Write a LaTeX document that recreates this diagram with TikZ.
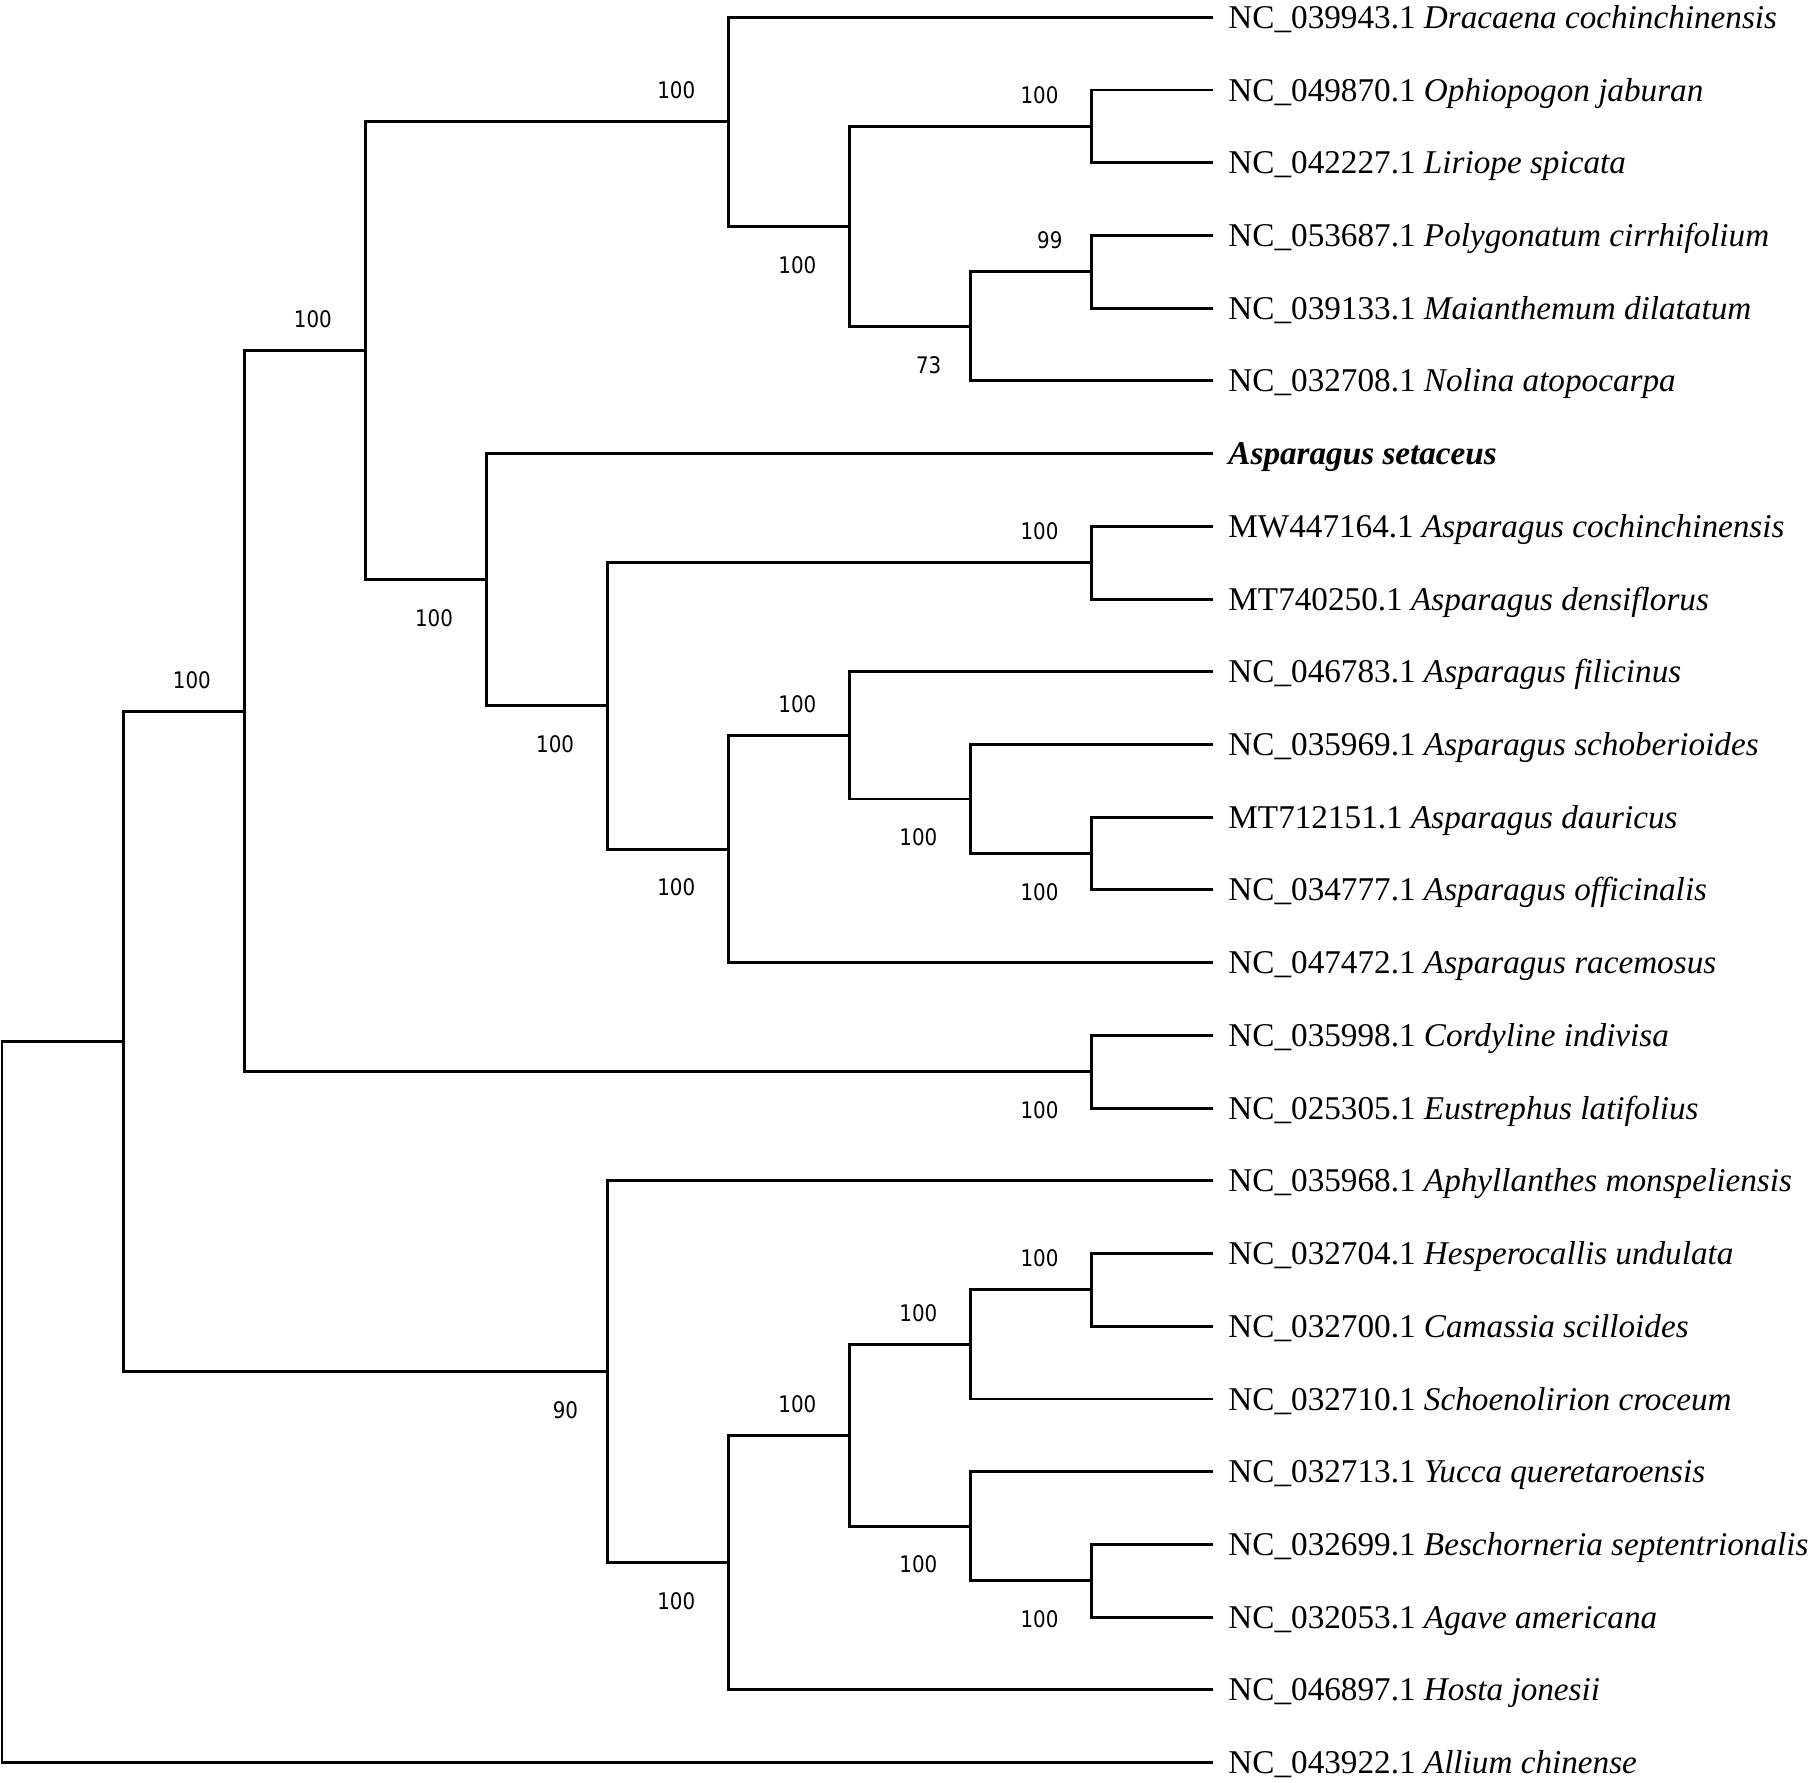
\documentclass[tikz,border=0pt]{standalone}
\usepackage{fontspec}
\setmainfont{Liberation Serif}
\newfontfamily\bootfont[FakeStretch=0.87]{DejaVu Sans}

\begin{document}
\begin{tikzpicture}[x=0.5pt, y=-0.5pt, line width=1.45pt,
		taxon/.style={anchor=base west, inner sep=0pt, xshift=7pt, yshift=-5.5pt, font=\fontsize{16.6}{20}\selectfont},
		boot/.style={anchor=east, inner sep=0pt, xshift=-16pt, font=\bootfont\fontsize{11.4}{13}\selectfont},
		bootup/.style={boot, yshift=15.7pt},
		bootdown/.style={boot, yshift=-19.2pt},
		twodigit/.style={xshift=2pt}]
		\useasboundingbox (0, 0) rectangle (1810, 1783);

		\coordinate (tip0) at (1213, 17.3);
		\coordinate (tip1) at (1213, 90.0);
		\coordinate (tip2) at (1213, 162.7);
		\coordinate (tip3) at (1213, 235.5);
		\coordinate (tip4) at (1213, 308.2);
		\coordinate (tip5) at (1213, 380.9);
		\coordinate (tip6) at (1213, 453.6);
		\coordinate (tip7) at (1213, 526.3);
		\coordinate (tip8) at (1213, 599.1);
		\coordinate (tip9) at (1213, 671.8);
		\coordinate (tip10) at (1213, 744.5);
		\coordinate (tip11) at (1213, 817.2);
		\coordinate (tip12) at (1213, 889.9);
		\coordinate (tip13) at (1213, 962.7);
		\coordinate (tip14) at (1213, 1035.4);
		\coordinate (tip15) at (1213, 1108.1);
		\coordinate (tip16) at (1213, 1180.8);
		\coordinate (tip17) at (1213, 1253.5);
		\coordinate (tip18) at (1213, 1326.3);
		\coordinate (tip19) at (1213, 1399.0);
		\coordinate (tip20) at (1213, 1471.7);
		\coordinate (tip21) at (1213, 1544.4);
		\coordinate (tip22) at (1213, 1617.1);
		\coordinate (tip23) at (1213, 1689.9);
		\coordinate (tip24) at (1213, 1762.6);

		\node[taxon] (dracaena) at (tip0) {NC\_039943.1 \textit{Dracaena cochinchinensis}};
		\node[taxon] (ophiopogon) at (tip1) {NC\_049870.1 \textit{Ophiopogon jaburan}};
		\node[taxon] (liriope) at (tip2) {NC\_042227.1 \textit{Liriope spicata}};
		\node[taxon] (polygonatum) at (tip3) {NC\_053687.1 \textit{Polygonatum cirrhifolium}};
		\node[taxon] (maianthemum) at (tip4) {NC\_039133.1 \textit{Maianthemum dilatatum}};
		\node[taxon] (nolina) at (tip5) {NC\_032708.1 \textit{Nolina atopocarpa}};
		\node[taxon] (setaceus) at (tip6) {\textbf{\textit{Asparagus setaceus}}};
		\node[taxon] (cochinchinensis) at (tip7) {MW447164.1 \textit{Asparagus cochinchinensis}};
		\node[taxon] (densiflorus) at (tip8) {MT740250.1 \textit{Asparagus densiflorus}};
		\node[taxon] (filicinus) at (tip9) {NC\_046783.1 \textit{Asparagus filicinus}};
		\node[taxon] (schoberioides) at (tip10) {NC\_035969.1 \textit{Asparagus schoberioides}};
		\node[taxon] (dauricus) at (tip11) {MT712151.1 \textit{Asparagus dauricus}};
		\node[taxon] (officinalis) at (tip12) {NC\_034777.1 \textit{Asparagus officinalis}};
		\node[taxon] (racemosus) at (tip13) {NC\_047472.1 \textit{Asparagus racemosus}};
		\node[taxon] (cordyline) at (tip14) {NC\_035998.1 \textit{Cordyline indivisa}};
		\node[taxon] (eustrephus) at (tip15) {NC\_025305.1 \textit{Eustrephus latifolius}};
		\node[taxon] (aphyllanthes) at (tip16) {NC\_035968.1 \textit{Aphyllanthes monspeliensis}};
		\node[taxon] (hesperocallis) at (tip17) {NC\_032704.1 \textit{Hesperocallis undulata}};
		\node[taxon] (camassia) at (tip18) {NC\_032700.1 \textit{Camassia scilloides}};
		\node[taxon] (schoenolirion) at (tip19) {NC\_032710.1 \textit{Schoenolirion croceum}};
		\node[taxon] (yucca) at (tip20) {NC\_032713.1 \textit{Yucca queretaroensis}};
		\node[taxon] (beschorneria) at (tip21) {NC\_032699.1 \textit{Beschorneria septentrionalis}};
		\node[taxon] (agave) at (tip22) {NC\_032053.1 \textit{Agave americana}};
		\node[taxon] (hosta) at (tip23) {NC\_046897.1 \textit{Hosta jonesii}};
		\node[taxon] (allium) at (tip24) {NC\_043922.1 \textit{Allium chinense}};

		\coordinate (root) at (2, 1402.05);
		\coordinate (ingroup) at (123.1, 1041.49);
		\coordinate (asparagoid) at (244.2, 711.27);
		\coordinate (upperclade) at (365.3, 350.79);
		\coordinate (aspclade) at (486.4, 579.74);
		\coordinate (aspcore) at (607.5, 705.88);
		\coordinate (agaveclade) at (607.5, 1371.71);
		\coordinate (dracclade) at (728.6, 121.83);
		\coordinate (aspmain) at (728.6, 849.06);
		\coordinate (agavecore) at (728.6, 1562.62);
		\coordinate (ophionolina) at (849.7, 226.36);
		\coordinate (aspinner) at (849.7, 735.41);
		\coordinate (agaveinner) at (849.7, 1435.34);
		\coordinate (polynolina) at (970.8, 326.38);
		\coordinate (aspsmall) at (970.8, 799.03);
		\coordinate (hespclade) at (970.8, 1344.45);
		\coordinate (yuccaclade) at (970.8, 1526.23);
		\coordinate (ophiopair) at (1091.9, 126.35);
		\coordinate (polypair) at (1091.9, 271.85);
		\coordinate (asppair) at (1091.9, 562.7);
		\coordinate (dauripair) at (1091.9, 853.55);
		\coordinate (cordpair) at (1091.9, 1071.75);
		\coordinate (hesppair) at (1091.9, 1289.9);
		\coordinate (agavepair) at (1091.9, 1580.75);

		\draw (root) |- (ingroup);
		\draw (root) |- (tip24);
		\draw (ingroup) |- (asparagoid);
		\draw (ingroup) |- (agaveclade);
		\draw (asparagoid) |- (upperclade);
		\draw (asparagoid) |- (cordpair);
		\draw (cordpair) |- (tip14);
		\draw (cordpair) |- (tip15);
		\draw (upperclade) |- (dracclade);
		\draw (upperclade) |- (aspclade);
		\draw (dracclade) |- (tip0);
		\draw (dracclade) |- (ophionolina);
		\draw (ophionolina) |- (ophiopair);
		\draw (ophionolina) |- (polynolina);
		\draw (ophiopair) |- (tip1);
		\draw (ophiopair) |- (tip2);
		\draw (polynolina) |- (polypair);
		\draw (polynolina) |- (tip5);
		\draw (polypair) |- (tip3);
		\draw (polypair) |- (tip4);
		\draw (aspclade) |- (tip6);
		\draw (aspclade) |- (aspcore);
		\draw (aspcore) |- (asppair);
		\draw (aspcore) |- (aspmain);
		\draw (asppair) |- (tip7);
		\draw (asppair) |- (tip8);
		\draw (aspmain) |- (aspinner);
		\draw (aspmain) |- (tip13);
		\draw (aspinner) |- (tip9);
		\draw (aspinner) |- (aspsmall);
		\draw (aspsmall) |- (tip10);
		\draw (aspsmall) |- (dauripair);
		\draw (dauripair) |- (tip11);
		\draw (dauripair) |- (tip12);
		\draw (agaveclade) |- (tip16);
		\draw (agaveclade) |- (agavecore);
		\draw (agavecore) |- (agaveinner);
		\draw (agavecore) |- (tip23);
		\draw (agaveinner) |- (hespclade);
		\draw (agaveinner) |- (yuccaclade);
		\draw (hespclade) |- (hesppair);
		\draw (hespclade) |- (tip19);
		\draw (hesppair) |- (tip17);
		\draw (hesppair) |- (tip18);
		\draw (yuccaclade) |- (tip20);
		\draw (yuccaclade) |- (agavepair);
		\draw (agavepair) |- (tip21);
		\draw (agavepair) |- (tip22);

		\node[bootup] (bsdrac) at (dracclade) {100};
		\node[bootup] (bsophio) at (ophiopair) {100};
		\node[bootdown] (bsophnol) at (ophionolina) {100};
		\node[bootup, twodigit] (bspoly) at (polypair) {99};
		\node[bootdown, twodigit] (bspolynol) at (polynolina) {73};
		\node[bootup] (bsupper) at (upperclade) {100};
		\node[bootdown] (bsaspclade) at (aspclade) {100};
		\node[bootup] (bsasppair) at (asppair) {100};
		\node[bootdown] (bsaspcore) at (aspcore) {100};
		\node[bootup] (bsaspinner) at (aspinner) {100};
		\node[bootdown] (bsaspsmall) at (aspsmall) {100};
		\node[bootdown] (bsdauri) at (dauripair) {100};
		\node[bootdown] (bsaspmain) at (aspmain) {100};
		\node[bootup] (bsasparagoid) at (asparagoid) {100};
		\node[bootdown] (bscord) at (cordpair) {100};
		\node[bootdown, twodigit] (bsagave) at (agaveclade) {90};
		\node[bootup] (bshesppair) at (hesppair) {100};
		\node[bootup] (bshesp) at (hespclade) {100};
		\node[bootup] (bsagaveinner) at (agaveinner) {100};
		\node[bootdown] (bsyucca) at (yuccaclade) {100};
		\node[bootdown] (bsagavepair) at (agavepair) {100};
		\node[bootdown] (bsagavecore) at (agavecore) {100};
	\end{tikzpicture}
\end{document}
